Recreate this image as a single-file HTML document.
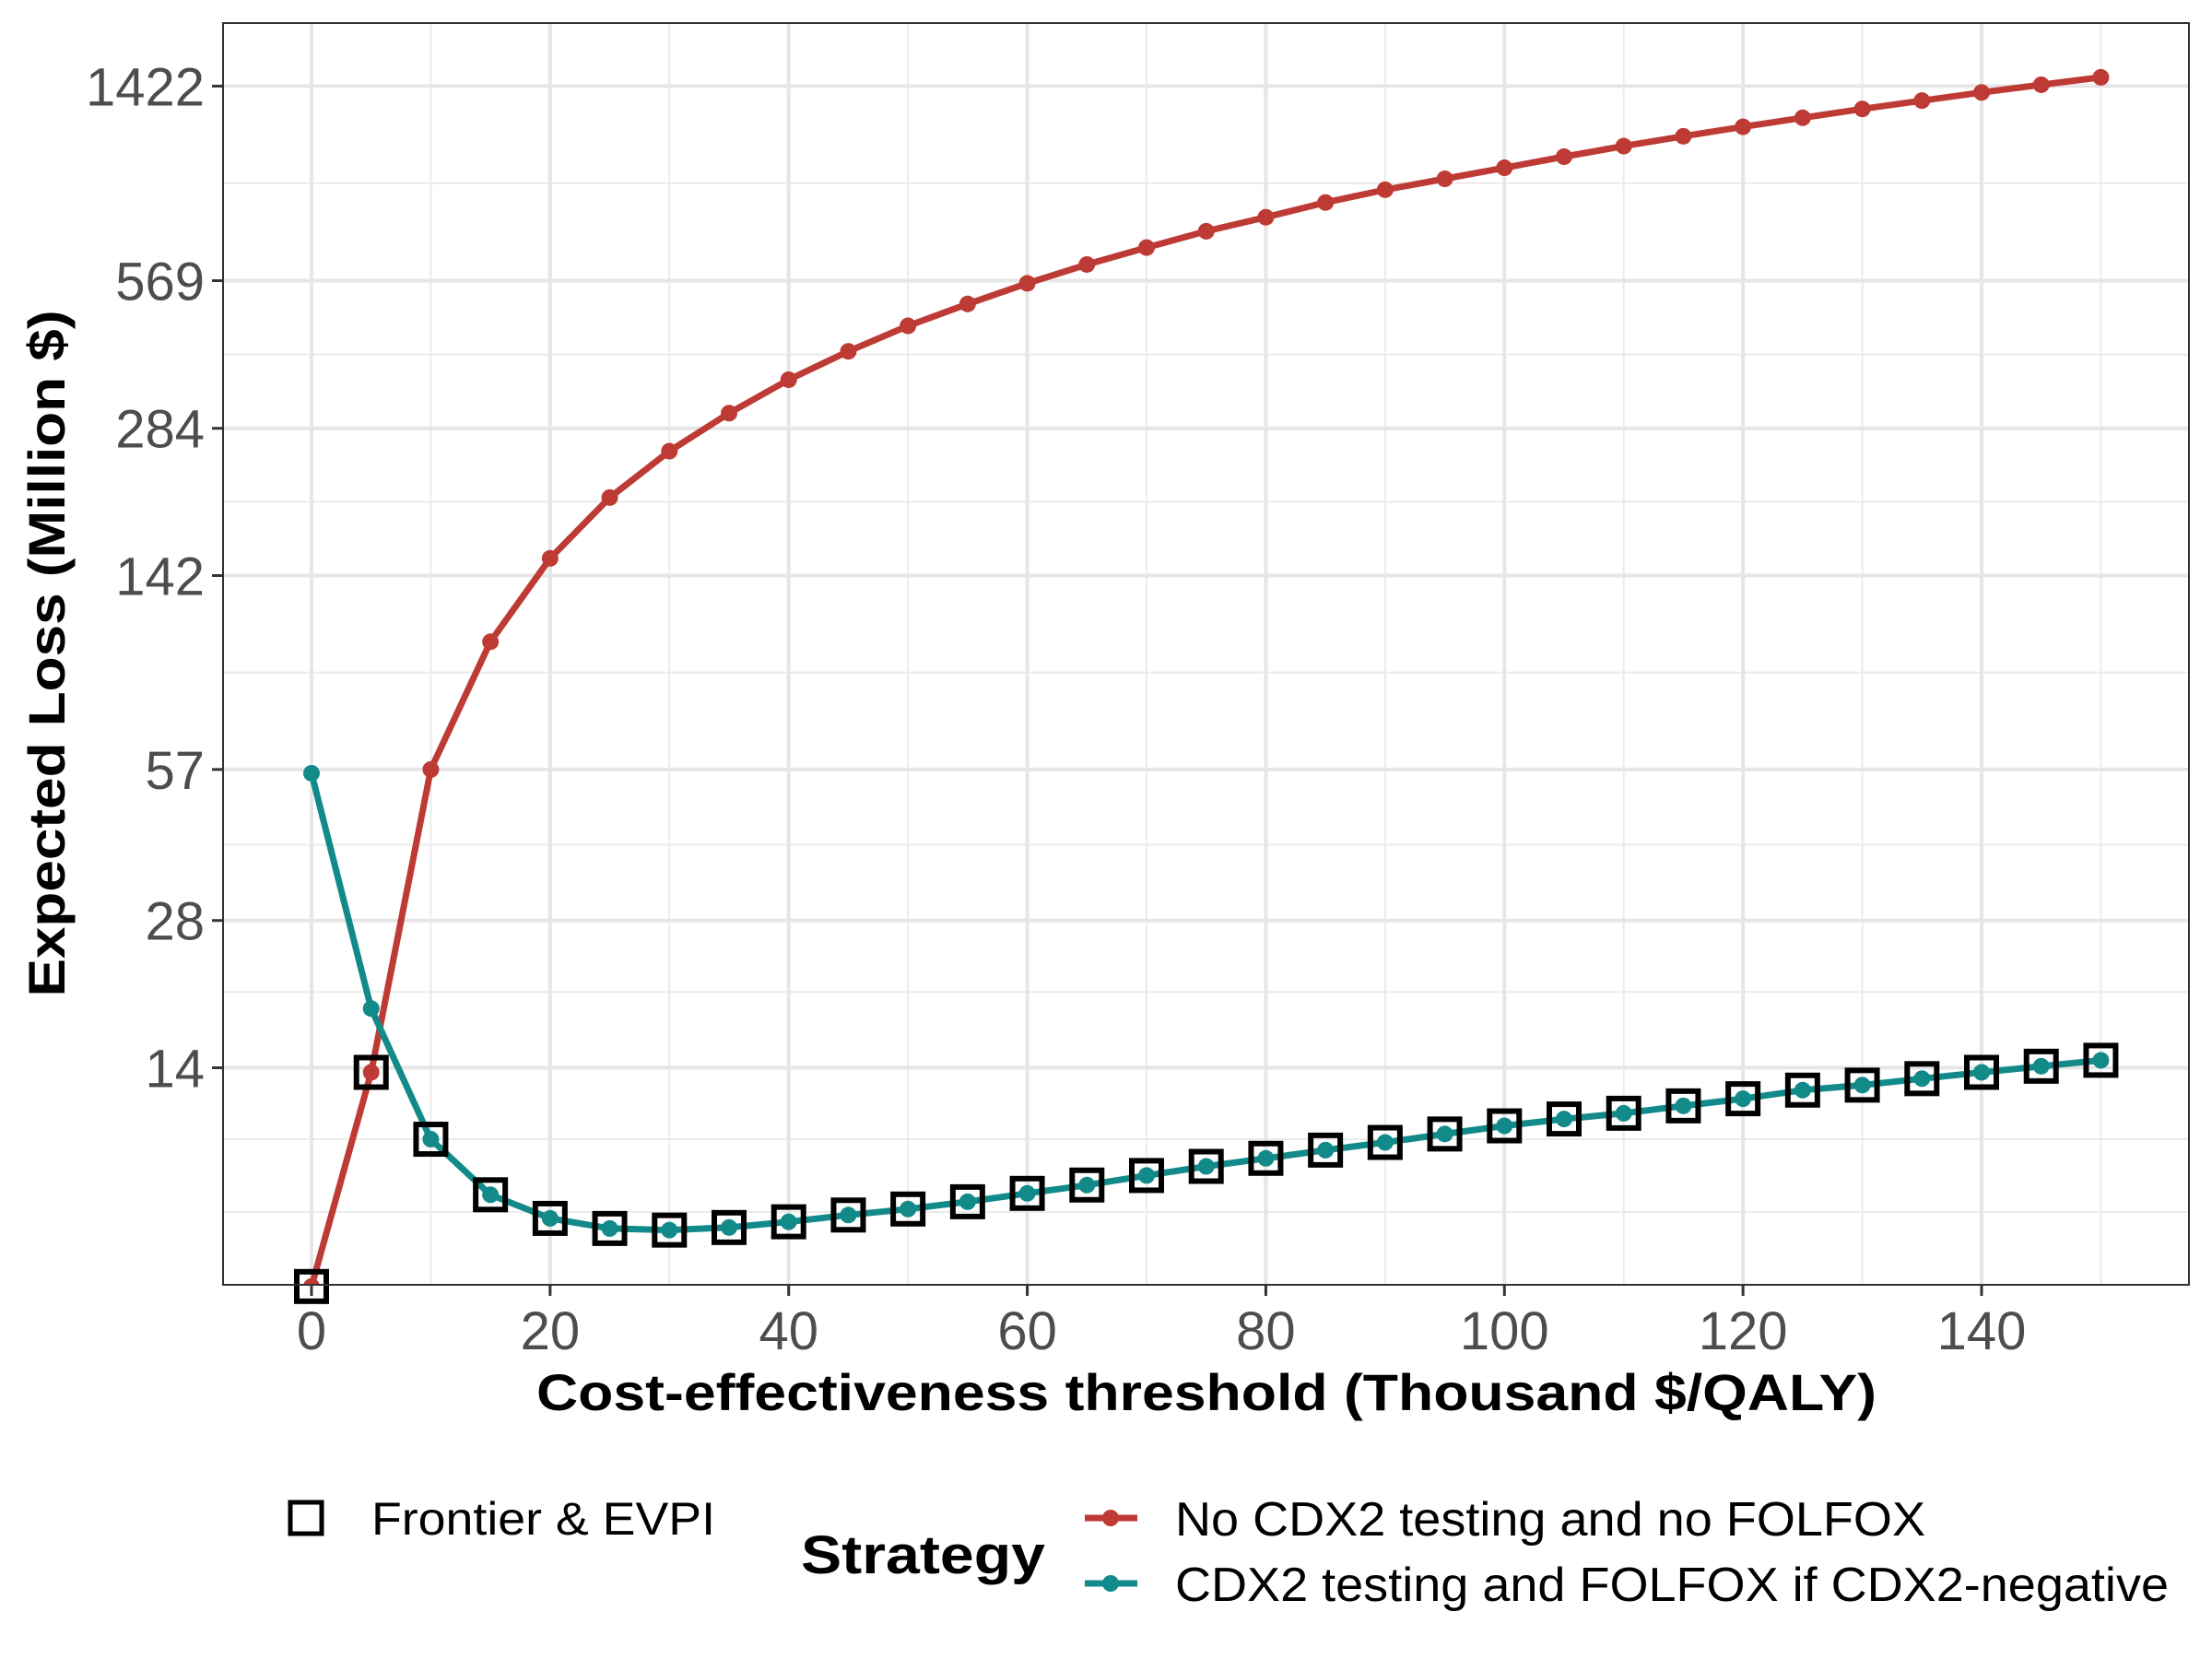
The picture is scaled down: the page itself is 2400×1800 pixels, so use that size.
<!DOCTYPE html>
<html><head><meta charset="utf-8"><style>
html,body{margin:0;padding:0;background:#fff}
svg{display:block;font-family:"Liberation Sans",Arial,sans-serif}
</style></head><body>
<svg id="chart" width="2400" height="1800" viewBox="0 0 2400 1800" xmlns="http://www.w3.org/2000/svg">
<rect x="0" y="0" width="2400" height="1800" fill="#fff"/>
<g id="grid"></g>
<g id="series"></g>
<rect x="242" y="25" width="2133" height="1369" fill="none" stroke="#333" stroke-width="2"/>
<g id="axes"></g>
<text x="1309" y="1530" text-anchor="middle" font-size="56" font-weight="bold" textLength="1454" lengthAdjust="spacingAndGlyphs">Cost-effectiveness threshold (Thousand $/QALY)</text>
<text transform="translate(70,709) rotate(-90)" text-anchor="middle" font-size="56" font-weight="bold" textLength="745" lengthAdjust="spacingAndGlyphs">Expected Loss (Million $)</text>
<g>
<rect x="315" y="1630" width="34" height="34" fill="none" stroke="#000" stroke-width="5"/>
<text x="403" y="1665" font-size="50" textLength="373" lengthAdjust="spacingAndGlyphs">Frontier &amp; EVPI</text>
<text x="869" y="1707" font-size="58" font-weight="bold" textLength="265" lengthAdjust="spacingAndGlyphs">Strategy</text>
<line x1="1177" y1="1647" x2="1234" y2="1647" stroke="#BE3A34" stroke-width="7"/>
<circle cx="1205" cy="1647" r="9" fill="#BE3A34"/>
<text x="1275" y="1666" font-size="52" textLength="814" lengthAdjust="spacingAndGlyphs">No CDX2 testing and no FOLFOX</text>
<line x1="1177" y1="1718" x2="1234" y2="1718" stroke="#138A8A" stroke-width="7"/>
<circle cx="1205" cy="1718" r="9" fill="#138A8A"/>
<text x="1275" y="1737" font-size="52" textLength="1078" lengthAdjust="spacingAndGlyphs">CDX2 testing and FOLFOX if CDX2-negative</text>
</g>
</svg>
<script>
const thresholds = [0,5,10,15,20,25,30,35,40,45,50,55,60,65,70,75,80,85,90,95,100,105,110,115,120,125,130,135,140,145,150];
const noCdx2 = [5.0,13.7,57,104,154,205,255,305,357,408,460,510,562,614,665,718,767,822,873,919,968,1020,1072,1123,1174,1225,1277,1328,1380,1431,1482];
const cdx2 = [56,18.5,10,7.7,6.89,6.57,6.52,6.6,6.78,7.0,7.2,7.45,7.75,8.06,8.43,8.8,9.14,9.5,9.85,10.25,10.65,11.0,11.3,11.7,12.1,12.6,12.9,13.3,13.7,14.1,14.5];
const yTicks = [14,28,57,142,284,569,1422];
const yMinor = [7.1,10,20,40,90,201,402,900];
const xTicks = [0,20,40,60,80,100,120,140];
const xMinor = [10,30,50,70,90,110,130,150];

const NS = "http://www.w3.org/2000/svg";
const L=242,R=2375,T=25,B=1394;
function xs(v){return 338 + v*(2150-338)/140;}
function ys(v){return 1766.8 - 230.5*Math.log(v);}
function mk(tag, attrs, parent, txt){
  const e=document.createElementNS(NS,tag);
  for(const k in attrs) e.setAttribute(k,attrs[k]);
  if(txt!==undefined) e.textContent=txt;
  parent.appendChild(e); return e;
}
const grid=document.getElementById('grid'), axes=document.getElementById('axes'), series=document.getElementById('series');
yMinor.forEach(v=>{const e=mk('line',{x1:L,x2:R,y1:ys(v),y2:ys(v),stroke:'#ebebeb','stroke-width':2},grid);

});
xMinor.forEach(v=>{const e=mk('line',{x1:xs(v),x2:xs(v),y1:T,y2:B,stroke:'#ebebeb','stroke-width':2},grid);

});
yTicks.forEach(v=>{const e=mk('line',{x1:L,x2:R,y1:ys(v),y2:ys(v),stroke:'#e6e6e6','stroke-width':4},grid);


const t=mk('line',{x1:L-12,x2:L,y1:ys(v),y2:ys(v),stroke:'#333','stroke-width':3},axes);


const l=mk('text',{x:L-20,y:ys(v)+21,'text-anchor':'end','font-size':58,fill:'#4d4d4d'},axes,String(v));

});
xTicks.forEach(v=>{const e=mk('line',{x1:xs(v),x2:xs(v),y1:T,y2:B,stroke:'#e6e6e6','stroke-width':4},grid);


const t=mk('line',{x1:xs(v),x2:xs(v),y1:B,y2:B+12,stroke:'#333','stroke-width':3},axes);


const l=mk('text',{x:xs(v),y:1464,'text-anchor':'middle','font-size':58,fill:'#4d4d4d'},axes,String(v));

});

const clip=mk('clipPath',{id:'pc'},series); mk('rect',{x:L,y:T,width:R-L,height:B-T},clip);
const sg=mk('g',{'clip-path':'url(#pc)'},series);
function drawSeries(vals,color,name){
  const d=vals.map((v,i)=>(i?'L':'M')+xs(thresholds[i]).toFixed(1)+','+ys(v).toFixed(1)).join('');
  const p=mk('path',{d:d,fill:'none',stroke:color,'stroke-width':7,'stroke-linejoin':'round'},sg);
  
  
  vals.forEach((v,i)=>{const c=mk('circle',{cx:xs(thresholds[i]),cy:ys(v),r:9,fill:color},sg);
  
  });
}
drawSeries(noCdx2,'#BE3A34','no-cdx2');
drawSeries(cdx2,'#138A8A','cdx2');
thresholds.forEach((x,i)=>{const v=Math.min(noCdx2[i],cdx2[i]);
const s=mk('rect',{x:xs(x)-16,y:ys(v)-16,width:32,height:32,fill:'none',stroke:'#000','stroke-width':6},series);

});
</script>
</body></html>
